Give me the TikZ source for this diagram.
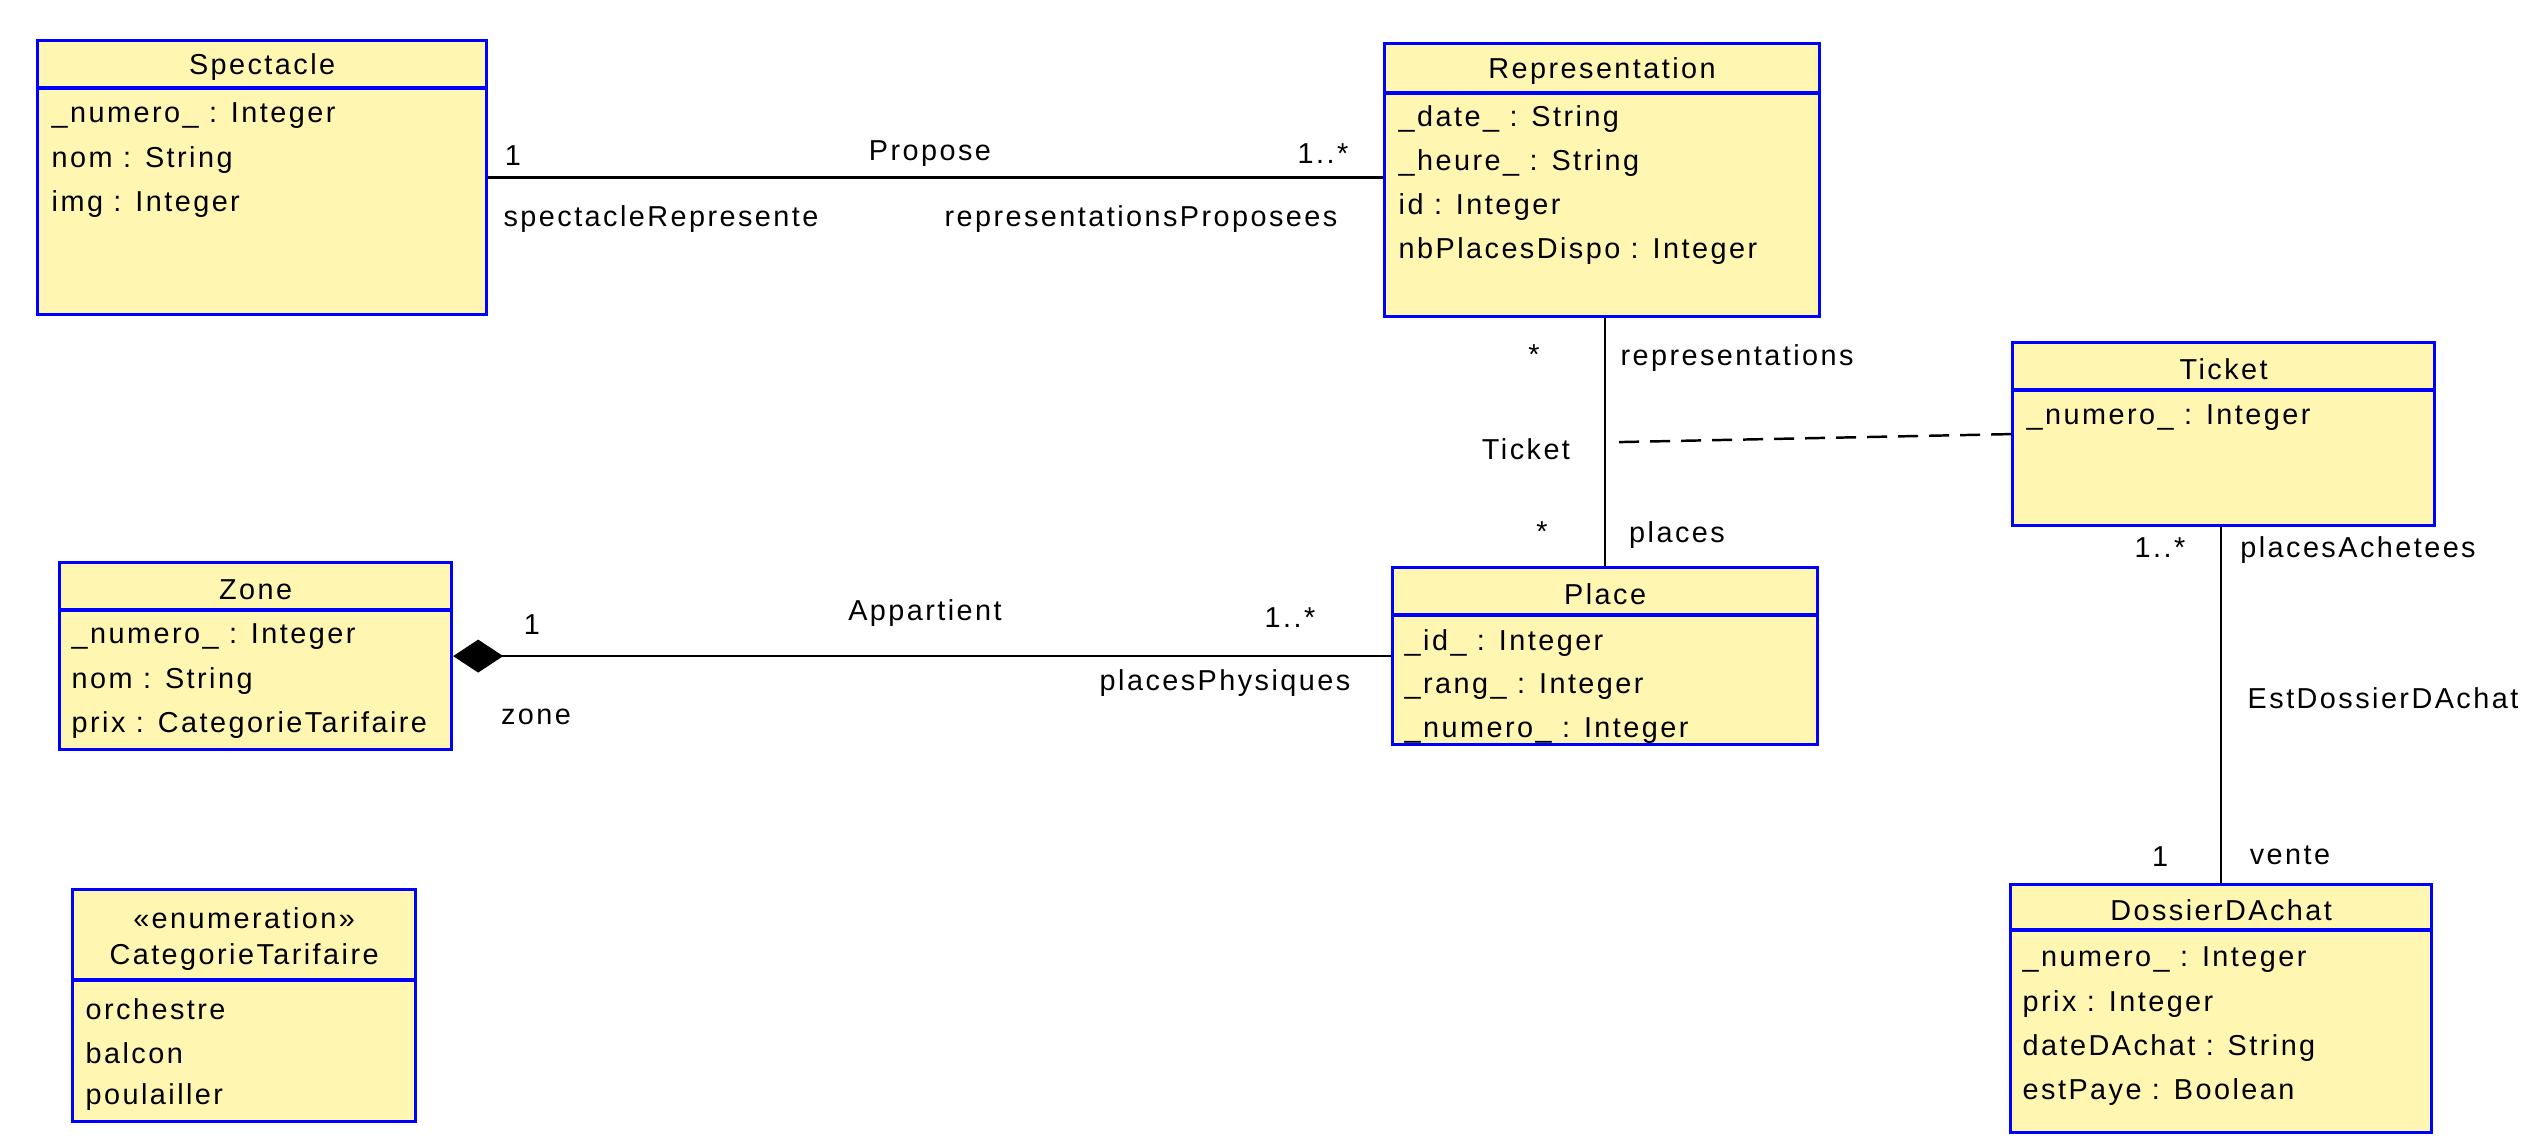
\documentclass[tikz,border=0pt]{standalone}
\usepackage{fontspec}
\setmainfont{Liberation Sans}[LetterSpace=8.5]
\usepackage{tikz}
\usetikzlibrary{calc}
\usetikzlibrary{arrows.meta}
\definecolor{clsfill}{RGB}{255,246,178}
\definecolor{clsline}{RGB}{0,0,255}

\begin{document}
\begin{tikzpicture}[font=\fontsize{8.2}{10}\selectfont,
  cls/.style={draw=clsline, fill=clsfill, line width=0.9pt, anchor=north west, inner sep=0pt},
  divline/.style={draw=clsline, line width=0.9pt},
  attr/.style={anchor=west, inner sep=0pt, yshift=-0.04cm},
  ttl/.style={inner sep=0pt, yshift=-0.04cm},
  lbl/.style={inner sep=0pt, yshift=-0.03cm},
  assoc/.style={line width=0.7pt},
  assocclass/.style={line width=0.7pt, dash pattern=on 0.2cm off 0.11cm}]
\useasboundingbox (0,0) rectangle (25.45,-11.45);

% Spectacle
\node[cls, minimum width=4.49cm, minimum height=2.74cm] (spec) at (0.36,-0.39) {};
\draw[divline] ($(spec.north west)+(0,-0.49)$) coordinate (spec-d) -- ($(spec.north east)+(0,-0.49)$);
\node[ttl] (spec-t) at ($(spec.north)+(0,-0.245)$) {Spectacle};
\foreach \a [count=\i] in {\_numero\_ : Integer, nom : String, img : Integer}
  \node[attr] (spec-\i) at ($(spec-d)+(0.15,{-0.24-0.44*(\i-1)})$) {\a};

% Representation
\node[cls, minimum width=4.35cm, minimum height=2.73cm] (rep) at (13.83,-0.42) {};
\draw[divline] ($(rep.north west)+(0,-0.51)$) coordinate (rep-d) -- ($(rep.north east)+(0,-0.51)$);
\node[ttl] (rep-t) at ($(rep.north)+(0,-0.255)$) {Representation};
\foreach \a [count=\i] in {\_date\_ : String, \_heure\_ : String, id : Integer, nbPlacesDispo : Integer}
  \node[attr] (rep-\i) at ($(rep-d)+(0.15,{-0.22-0.44*(\i-1)})$) {\a};

% Ticket
\node[cls, minimum width=4.22cm, minimum height=1.83cm] (tic) at (20.11,-3.41) {};
\draw[divline] ($(tic.north west)+(0,-0.49)$) coordinate (tic-d) -- ($(tic.north east)+(0,-0.49)$);
\node[ttl] (tic-t) at ($(tic.north)+(0,-0.245)$) {Ticket};
\node[attr] (tic-1) at ($(tic-d)+(0.15,-0.24)$) {\_numero\_ : Integer};

% Zone
\node[cls, minimum width=3.92cm, minimum height=1.87cm] (zone) at (0.58,-5.61) {};
\draw[divline] ($(zone.north west)+(0,-0.49)$) coordinate (zone-d) -- ($(zone.north east)+(0,-0.49)$);
\node[ttl] (zone-t) at ($(zone.north)+(0,-0.245)$) {Zone};
\foreach \a [count=\i] in {\_numero\_ : Integer, nom : String, prix : CategorieTarifaire}
  \node[attr] (zone-\i) at ($(zone-d)+(0.13,{-0.23-0.44*(\i-1)})$) {\a};

% Place
\node[cls, minimum width=4.25cm, minimum height=1.77cm] (place) at (13.91,-5.66) {};
\draw[divline] ($(place.north west)+(0,-0.49)$) coordinate (place-d) -- ($(place.north east)+(0,-0.49)$);
\node[ttl] (place-t) at ($(place.north)+(0,-0.245)$) {Place};
\foreach \a [count=\i] in {\_id\_ : Integer, \_rang\_ : Integer, \_numero\_ : Integer}
  \node[attr] (place-\i) at ($(place-d)+(0.13,{-0.24-0.44*(\i-1)})$) {\a};

% DossierDAchat
\node[cls, minimum width=4.21cm, minimum height=2.48cm] (dos) at (20.09,-8.83) {};
\draw[divline] ($(dos.north west)+(0,-0.47)$) coordinate (dos-d) -- ($(dos.north east)+(0,-0.47)$);
\node[ttl] (dos-t) at ($(dos.north)+(0,-0.235)$) {DossierDAchat};
\foreach \a [count=\i] in {\_numero\_ : Integer, prix : Integer, dateDAchat : String, estPaye : Boolean}
  \node[attr] (dos-\i) at ($(dos-d)+(0.13,{-0.26-0.44*(\i-1)})$) {\a};

% CategorieTarifaire
\node[cls, minimum width=3.43cm, minimum height=2.32cm] (cat) at (0.71,-8.88) {};
\draw[divline] ($(cat.north west)+(0,-0.92)$) coordinate (cat-d) -- ($(cat.north east)+(0,-0.92)$);
\node[ttl] (cat-s) at ($(cat.north)+(0,-0.26)$) {«enumeration»};
\node[ttl] (cat-t) at ($(cat.north)+(0,-0.65)$) {CategorieTarifaire};
\foreach \a [count=\i] in {orchestre, balcon, poulailler}
  \node[attr] (cat-\i) at ($(cat-d)+(0.14,{-0.25-0.44*(\i-1)})$) {\a};

% Propose
\draw[assoc] (spec.east) -- (spec.east -| rep.west);
\node[lbl] (pro-m1) at (5.13,-1.53) {1};
\node[lbl] (pro-n) at (9.30,-1.51) {Propose};
\node[lbl] (pro-m2) at (13.23,-1.51) {1..*};
\node[lbl] (pro-r1) at (6.61,-2.16) {spectacleRepresente};
\node[lbl] (pro-r2) at (11.41,-2.16) {representationsProposees};

% Representation -- Place, with class Ticket
\draw[assoc] (place.north) -- (place.north |- rep.south);
\coordinate (tk) at ($(place.north)!0.5!(place.north |- rep.south)+(0.14,0)$);
\draw[assocclass] (tk) -- (tic.west);
\node[lbl] (tk-m1) at (15.34,-3.52) {*};
\node[lbl] (tk-r1) at (17.37,-3.55) {representations};
\node[lbl] (tk-n) at (15.26,-4.46) {Ticket};
\node[lbl] (tk-m2) at (15.42,-5.29) {*};
\node[lbl] (tk-r2) at (16.77,-5.32) {places};

% EstDossierDAchat
\draw[assoc] (dos.north) -- (dos.north |- tic.south);
\node[lbl] (est-m1) at (21.60,-5.45) {1..*};
\node[lbl] (est-r1) at (23.58,-5.47) {placesAchetees};
\node[lbl] (est-n) at (23.83,-6.95) {EstDossierDAchat};
\node[lbl] (est-m2) at (21.60,-8.54) {1};
\node[lbl] (est-r2) at (22.90,-8.52) {vente};

% Appartient
\draw[assoc, -{Diamond[length=0.5cm, width=0.33cm]}] (place.west) -- (place.west -| zone.east);
\node[lbl] (app-m1) at (5.32,-6.22) {1};
\node[lbl] (app-n) at (9.25,-6.10) {Appartient};
\node[lbl] (app-m2) at (12.90,-6.15) {1..*};
\node[lbl] (app-r2) at (12.25,-6.80) {placesPhysiques};
\node[lbl] (app-r1) at (5.36,-7.14) {zone};
\end{tikzpicture}
\end{document}
